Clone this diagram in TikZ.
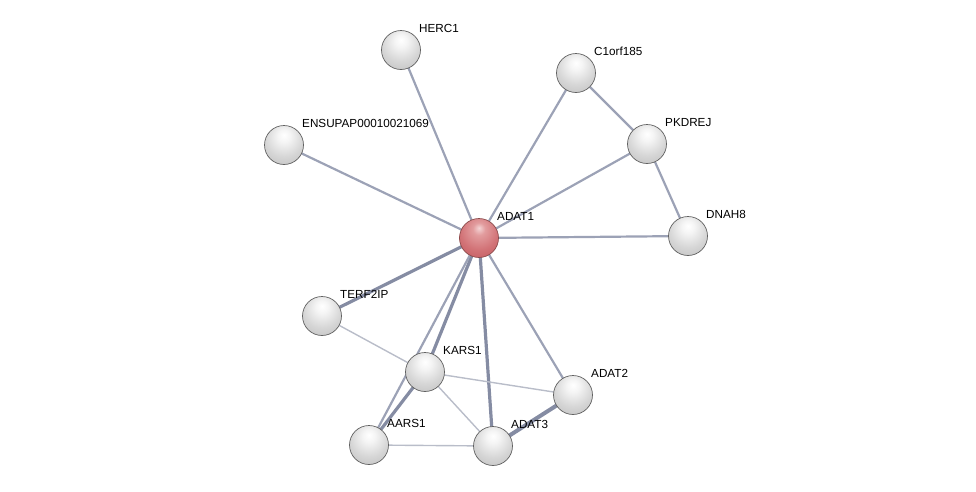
\documentclass[tikz,border=0pt]{standalone}
\usepackage{fontspec}
\setmainfont{Liberation Sans}
\usetikzlibrary{calc}
\pgfdeclarelayer{bg}
\pgfsetlayers{bg,main}
\definecolor{r0}{HTML}{F4D4D5}
\definecolor{r1}{HTML}{E29C9E}
\definecolor{r2}{HTML}{D27377}
\definecolor{r3}{HTML}{C45C61}
\definecolor{r4}{HTML}{D8878A}
\pgfdeclareradialshading{wball}{\pgfpoint{0bp}{13bp}}{color(0bp)=(white); color(8bp)=(white!96!black); color(24bp)=(white!84!black); color(38bp)=(white!76!black); color(50bp)=(white!78!black); color(60bp)=(white!88!black); color(80bp)=(white!90!black)}
\pgfdeclareradialshading{rball}{\pgfpoint{0bp}{13bp}}{color(0bp)=(r0); color(8bp)=(r1); color(24bp)=(r2); color(38bp)=(r3); color(50bp)=(r3); color(60bp)=(r4); color(80bp)=(r4)}
\definecolor{edgem}{HTML}{9CA2B6}
\definecolor{edged}{HTML}{858CA3}
\definecolor{edgel}{HTML}{B9BDC9}
\tikzset{
  prot/.style={circle, minimum size=39pt, inner sep=0pt, draw=black!62, line width=0.7pt, shading=wball},
  qprot/.style={circle, minimum size=39pt, inner sep=0pt, draw=red!35!black!70, line width=0.7pt, shading=rball},
  lab/.style={anchor=base west, inner sep=0pt, font=\fontsize{11.7pt}{12pt}\selectfont},
  em/.style={draw=edgem, line width=2.2pt},
  ed/.style={draw=edged, line width=3.2pt},
  el/.style={draw=edgel, line width=1.4pt},
}
\begin{document}
\begin{tikzpicture}[x=1pt,y=-1pt]
\useasboundingbox (0,0) rectangle (976,491);
\node[prot] (herc1) at (401,50) {};
\node[prot] (c1orf) at (576,73) {};
\node[prot] (ensu) at (284,145) {};
\node[prot] (pkdrej) at (647,144) {};
\node[qprot] (adat1) at (479,238) {};
\node[prot] (dnah8) at (688,236) {};
\node[prot] (terf) at (322,316) {};
\node[prot] (kars1) at (425,372) {};
\node[prot] (adat2) at (573,395) {};
\node[prot] (aars1) at (369,445) {};
\node[prot] (adat3) at (493,446) {};

\node[lab] (lherc1) at ($(herc1)+(18,-17.5)$) {HERC1};
\node[lab] (lc1orf) at ($(c1orf)+(18,-17.5)$) {C1orf185};
\node[lab] (lensu) at ($(ensu)+(18,-17.5)$) {ENSUPAP00010021069};
\node[lab] (lpkdrej) at ($(pkdrej)+(18,-17.5)$) {PKDREJ};
\node[lab] (ladat1) at ($(adat1)+(18,-17.5)$) {ADAT1};
\node[lab] (ldnah8) at ($(dnah8)+(18,-17.5)$) {DNAH8};
\node[lab] (lterf) at ($(terf)+(18,-17.5)$) {TERF2IP};
\node[lab] (lkars1) at ($(kars1)+(18,-17.5)$) {KARS1};
\node[lab] (ladat2) at ($(adat2)+(18,-17.5)$) {ADAT2};
\node[lab] (laars1) at ($(aars1)+(18,-17.5)$) {AARS1};
\node[lab] (ladat3) at ($(adat3)+(18,-17.5)$) {ADAT3};

\begin{pgfonlayer}{bg}
\draw[em] (adat1.center) -- (herc1.center);
\draw[em] (adat1.center) -- (ensu.center);
\draw[em] (adat1.center) -- (c1orf.center);
\draw[em] (adat1.center) -- (pkdrej.center);
\draw[em] (adat1.center) -- (dnah8.center);
\draw[em] (c1orf.center) -- (pkdrej.center);
\draw[em] (pkdrej.center) -- (dnah8.center);
\draw[ed] (adat1.center) -- (terf.center);
\draw[ed] (adat1.center) -- (kars1.center);
\draw[em] (adat1.center) -- (aars1.center);
\draw[ed] (adat1.center) -- (adat3.center);
\draw[em] (adat1.center) -- (adat2.center);
\draw[el] (terf.center) -- (kars1.center);
\draw[el] (kars1.center) -- (adat2.center);
\draw[el] (kars1.center) -- (adat3.center);
\draw[ed] (kars1.center) -- (aars1.center);
\draw[el] (aars1.center) -- (adat3.center);
\draw[ed, line width=4pt] (adat2.center) -- (adat3.center);
\end{pgfonlayer}
\end{tikzpicture}
\end{document}
